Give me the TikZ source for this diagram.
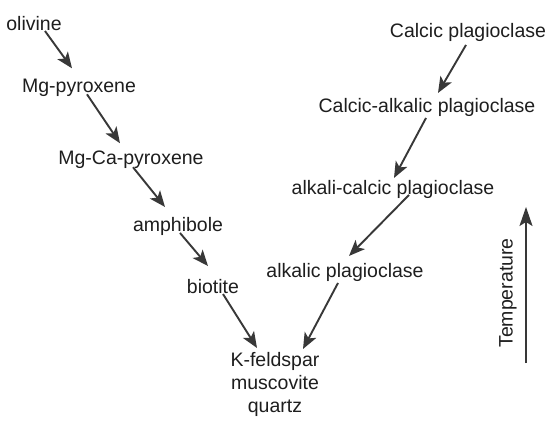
\documentclass[tikz,border=0pt]{standalone}
\usepackage{fontspec}
\setmainfont{Liberation Sans}
\usetikzlibrary{arrows.meta,calc}
\definecolor{ink}{HTML}{1E1E1E}
\definecolor{arr}{HTML}{383838}
\begin{document}
\begin{tikzpicture}[x=1pt,y=-1pt,
  lbl/.style={anchor=base,inner sep=0pt,text=ink,font=\fontsize{19.5}{23}\selectfont},
  flow/.style={draw=arr,line width=1.9pt,-{Stealth[length=16pt,width=13pt,inset=4pt]}}]
\useasboundingbox[fill=white] (0,0) rectangle (552,422);
% left series
\node[lbl] (ol) at (34,31) {olivine};
\node[lbl] (mgpy) at (79,93) {Mg-pyroxene};
\node[lbl] (mgca) at (131,165) {Mg-Ca-pyroxene};
\node[lbl] (amph) at (178,232) {amphibole};
\node[lbl] (bio) at (213,294) {biotite};
% final
\node[lbl,anchor=center,align=center] (kfs) at (275,384) {K-feldspar\\muscovite\\quartz};
% right series
\node[lbl] (cp) at (468,38) {Calcic plagioclase};
\node[lbl] (cap) at (427,113) {Calcic-alkalic plagioclase};
\node[lbl] (acp) at (393,195) {alkali-calcic plagioclase};
\node[lbl] (ap) at (345,278) {alkalic plagioclase};
% temperature
\coordinate (tb) at (526,363);
\coordinate (tt) at (526,207);
\node[lbl,anchor=center,rotate=90] (temp) at (508,293) {Temperature};
% connectors
\draw[flow] ($(ol)+(11,7)$) -- ($(mgpy)+(-7,-20)$);
\draw[flow] ($(mgpy)+(8,6)$) -- ($(mgca)+(-11,-17)$);
\draw[flow] ($(mgca)+(2,7)$) -- ($(amph)+(-13,-20)$);
\draw[flow] ($(amph)+(2,6)$) -- ($(bio)+(-5,-21)$);
\draw[flow] ($(bio)+(10,7)$) -- ($(kfs)+(-18,-36)$);
\draw[flow] ($(cp)+(-2,12)$) -- ($(cap)+(11,-15)$);
\draw[flow] ($(cap)+(-1,10)$) -- ($(acp)+(1,-12)$);
\draw[flow] ($(acp)+(16,5)$) -- ($(ap)+(4,-17)$);
\draw[flow] ($(ap)+(-7,10)$) -- ($(kfs)+(28,-35)$);
\draw[flow,-{Stealth[length=19pt,width=13pt,inset=4pt]}] (tb) -- (tt);
\end{tikzpicture}
\end{document}
